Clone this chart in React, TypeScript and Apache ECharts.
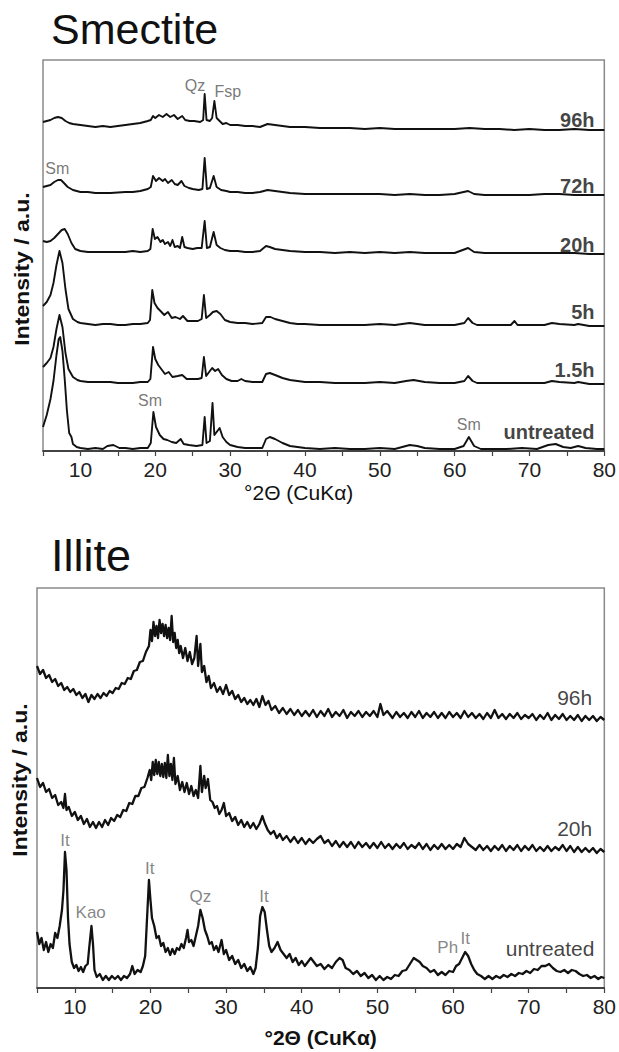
import React, { useEffect, useRef } from "react";
import * as echarts from "echarts";

const FONT = "'Liberation Sans', Arial, Helvetica, sans-serif";

const X_TICKS = [5, 10, 15, 20, 25, 30, 35, 40, 45, 50, 55, 60, 65, 70, 75, 80];
const X_LABELS = [10, 20, 30, 40, 50, 60, 70, 80];

// ---------- Smectite (intensity in a.u., curves offset) ----------
const smectite96h = [[5,329],[5.5,330],[6,331],[6.5,333],[7,334],[7.5,333],[8,330],[8.5,328],[9,327],[10,326],[11,325],[12,324],[13,325],[14,324],[15,325],[16,326],[17,327],[18,328],[19,330],[19.4,331],[19.7,335],[20,333],[20.5,336],[21,334],[21.5,337],[22,334],[22.5,336],[23,332],[23.6,335],[24,331],[24.6,330],[25.2,330],[26,329],[26.4,331],[26.6,357],[26.85,331],[27.3,330],[27.6,333],[27.9,350],[28.2,333],[28.6,330],[29,327],[29.5,328],[30,326],[31,326],[32,325],[33,325],[34,324],[35,327],[36,326],[37,325],[38,324],[40,324],[42,323],[44,323],[46,323],[48,322],[50,323],[52,322],[54,322],[56,322],[58,322],[60,322],[62,323],[64,322],[66,322],[68,321],[70,322],[72,321],[74,321],[76,322],[78,321],[80,321]];
const smectite72h = [[5,264],[5.5,265],[6,266],[6.5,269],[7,271],[7.4,271],[7.8,268],[8.3,264],[9,261],[10,259],[11,259],[12,258],[14,258],[16,259],[17,259],[18,260],[19,262],[19.4,264],[19.7,275],[20.1,270],[20.5,273],[21,270],[21.3,272],[21.7,268],[22.2,271],[22.6,267],[23,266],[23.5,270],[23.9,265],[24.5,263],[25,262],[25.8,261],[26.3,262],[26.6,293],[26.9,262],[27.3,263],[27.8,275],[28.2,264],[28.8,261],[29.5,260],[30,259],[31,259],[32,258],[33,258],[34,259],[35,261],[36,260],[37,259],[38,258],[40,257],[42,257],[44,257],[46,257],[48,257],[50,257],[52,256],[54,257],[56,256],[58,256],[60,257],[61.8,260],[62.6,257],[64,256],[66,256],[68,256],[70,256],[72,257],[74,257],[76,256],[78,256],[80,256]];
const smectite20h = [[5,210],[5.5,209],[6,210],[6.5,213],[7,217],[7.5,221],[7.9,222],[8.3,217],[8.8,208],[9.3,202],[10,200],[11,199],[12,199],[13,199],[14,199],[15,199],[16,199],[17,200],[18,199],[19,200],[19.35,202],[19.65,222],[19.95,212],[20.3,214],[20.7,209],[21,211],[21.3,207],[21.7,209],[22,205],[22.3,211],[22.6,204],[23,205],[23.3,203],[23.6,214],[23.9,204],[24.3,203],[25,202],[25.6,203],[26.2,203],[26.6,230],[26.9,203],[27.3,204],[27.8,219],[28.2,206],[28.7,203],[29.3,201],[30,200],[31,200],[32,199],[33,199],[34,200],[34.8,205],[35.3,204],[36,202],[37,201],[38,200],[40,199],[42,199],[44,198],[46,199],[48,198],[50,199],[52,198],[54,199],[56,198],[58,198],[60,198],[61.8,203],[62.6,199],[64,198],[66,198],[68,198],[70,198],[72,198],[74,198],[76,198],[78,197],[80,197]];
const smectite5h = [[5,145],[5.5,149],[6,156],[6.4,168],[6.8,186],[7.2,200],[7.6,188],[8,162],[8.4,142],[9,132],[9.6,129],[10,128],[11,127],[12,126],[13,127],[14,127],[15,126],[16,126],[17,127],[18,127],[19,128],[19.3,131],[19.6,161],[19.9,148],[20.3,143],[20.7,140],[21.2,136],[21.7,139],[22.2,133],[22.7,134],[23.3,132],[23.7,135],[24.3,130],[25,130],[25.7,130],[26.2,132],[26.5,156],[26.8,133],[27.3,136],[27.7,139],[28.2,140],[28.7,137],[29.3,131],[30,129],[31,128],[32,128],[33,127],[34.3,128],[34.8,134],[35.4,134],[36,132],[37,130],[38,128],[39,127],[40,127],[42,126],[44,126],[46,126],[48,126],[50,127],[52,126],[54,128],[55,127],[56,126],[58,126],[60,126],[61.3,128],[61.8,133],[62.4,128],[63,126],[65,126],[67.5,126],[68,130],[68.4,126],[70,126],[72,126],[73,128],[74,127],[76,126],[76.5,127],[78,125],[80,125]];
const smectite1_5h = [[5,84],[5.5,88],[6,93],[6.4,104],[6.8,122],[7.2,136],[7.6,124],[8,98],[8.4,82],[9,74],[9.6,71],[10,70],[11,69],[12,69],[13,69],[14,69],[15,68],[16,68],[17,68],[18,69],[19,69],[19.35,72],[19.7,104],[20,92],[20.4,86],[20.8,82],[21.3,77],[21.8,79],[22.3,74],[23,75],[23.6,76],[24.2,72],[25,72],[25.7,72],[26.2,73],[26.5,94],[26.8,75],[27.2,79],[27.6,83],[28,80],[28.4,82],[28.9,76],[29.5,72],[30.2,70],[31,70],[31.5,72],[32,70],[33,69],[34.3,69],[34.8,77],[35.3,78],[36,76],[37,73],[38,71],[39,70],[40,69],[42,69],[44,68],[46,68],[48,68],[50,69],[52,68],[53.5,70],[54.5,71],[56,69],[58,68],[60,68],[61.3,70],[61.8,75],[62.4,70],[63,68],[65,68],[68,68],[70,68],[72,68],[73,70],[74,69],[76,68],[76.5,69],[78,67],[80,67]];
const smectiteUntreated = [[5,24],[5.5,36],[6,52],[6.4,70],[6.8,96],[7.1,112],[7.3,114],[7.6,100],[7.9,72],[8.2,40],[8.5,18],[8.8,14],[9,7],[9.5,4],[10,3],[11,2],[12,3],[13,2],[13.6,5],[14.4,6],[15.2,3],[16,3],[17,2],[18,3],[19,3],[19.4,8],[19.75,39],[20.1,24],[20.6,16],[21.1,12],[21.6,11],[22.2,9],[22.8,8],[23.4,12],[23.8,7],[24.5,6],[25.5,5],[26.3,6],[26.6,34],[26.85,8],[27.3,10],[27.65,48],[27.9,16],[28.3,20],[28.6,23],[29,14],[29.5,9],[30,6],[31,4],[32,3],[33,3],[34.3,3],[34.8,12],[35.3,14],[36,12],[37,8],[38,5],[39,4],[40,3],[42,2],[44,3],[46,2],[48,2],[50,3],[52,2],[54,6],[55,5],[56,3],[58,2],[60,2],[61.2,5],[61.9,14],[62.6,5],[63.5,2],[65,2],[67,2],[69,3],[71,2],[72.5,6],[73.5,7],[74.5,4],[75.5,3],[76.5,5],[77.5,3],[79,2],[80,2]];

const smectiteCurveLabels = [["96h", 78.7, 331], ["72h", 78.7, 265], ["20h", 78.7, 206], ["5h", 78.7, 139], ["1.5h", 78.7, 81], ["untreated", 78.7, 19]];
const smectitePeakLabels = [["Qz", 25.3, 366], ["Fsp", 29.7, 360], ["Sm", 6.9, 283], ["Sm", 19.3, 51], ["Sm", 61.9, 27]];

// ---------- Illite ----------
const illite96h = [[5,322],[5.4,314],[5.8,318],[6.2,310],[6.6,313],[7,306],[7.4,309],[7.8,302],[8.2,305],[8.6,298],[9,301],[9.4,296],[9.8,299],[10.2,293],[10.6,296],[11,290],[11.4,294],[11.8,286],[12.2,293],[12.6,289],[13,294],[13.4,290],[13.8,295],[14.2,292],[14.6,297],[15,295],[15.4,300],[15.8,299],[16.2,305],[16.6,304],[17,310],[17.4,309],[17.8,317],[18.2,318],[18.6,326],[19,327],[19.4,336],[19.8,342],[20,358],[20.2,347],[20.4,366],[20.6,352],[20.8,362],[21,350],[21.2,368],[21.4,355],[21.6,364],[21.8,352],[22,363],[22.2,350],[22.4,360],[22.6,348],[22.8,372],[23,346],[23.2,355],[23.4,340],[23.6,348],[23.8,335],[24,342],[24.3,330],[24.6,340],[24.9,327],[25.2,336],[25.5,324],[25.8,330],[26.1,352],[26.3,322],[26.6,344],[26.8,316],[27.1,322],[27.4,306],[27.7,312],[28,300],[28.4,305],[28.8,296],[29.2,301],[29.6,294],[30,303],[30.4,293],[30.8,297],[31.2,289],[31.6,293],[32,286],[32.4,290],[32.8,284],[33.2,288],[33.6,283],[34,289],[34.4,281],[34.8,292],[35.2,283],[35.6,287],[36,278],[36.5,282],[37,275],[37.5,280],[38,274],[38.5,279],[39,273],[39.5,278],[40,272],[40.5,277],[41,272],[41.5,278],[42,271],[42.5,277],[43,272],[43.5,279],[44,271],[44.5,276],[45,272],[45.5,278],[46,270],[46.5,276],[47,272],[47.5,277],[48,271],[48.5,276],[49,272],[49.5,277],[50,271],[50.4,284],[50.8,273],[51.3,277],[52,270],[52.5,276],[53,271],[53.5,275],[54,270],[54.5,276],[55,271],[55.5,277],[56,270],[56.5,275],[57,271],[57.5,276],[58,270],[58.5,275],[59,270],[59.5,276],[60,271],[60.5,275],[61,270],[61.5,277],[62,271],[62.5,275],[63,270],[63.5,274],[64,269],[64.5,275],[65,270],[65.5,278],[66,270],[66.5,274],[67,269],[67.5,274],[68,270],[68.5,275],[69,269],[69.5,273],[70,270],[70.5,274],[71,268],[71.5,273],[72,269],[72.5,275],[73,268],[73.5,273],[74,269],[74.5,274],[75,268],[75.5,272],[76,268],[76.5,273],[77,267],[77.5,272],[78,268],[78.5,272],[79,267],[79.5,271],[80,268]];
const illite20h = [[5,210],[5.4,201],[5.8,205],[6.2,196],[6.6,199],[7,190],[7.4,193],[7.8,183],[8.2,186],[8.5,180],[8.7,194],[8.9,178],[9.2,181],[9.6,172],[10,176],[10.4,168],[10.8,172],[11.2,164],[11.6,169],[12,161],[12.4,166],[12.8,160],[13.2,166],[13.6,161],[14,168],[14.4,163],[14.8,170],[15.2,167],[15.6,173],[16,171],[16.4,178],[16.8,177],[17.2,185],[17.6,184],[18,192],[18.4,192],[18.8,200],[19.2,201],[19.6,210],[19.9,218],[20.1,208],[20.3,226],[20.5,213],[20.7,228],[20.9,214],[21.1,226],[21.3,212],[21.5,224],[21.7,211],[21.9,225],[22.1,210],[22.3,233],[22.5,212],[22.7,224],[22.9,208],[23.1,230],[23.3,204],[23.6,212],[23.9,198],[24.2,206],[24.5,196],[24.8,205],[25.1,194],[25.4,202],[25.7,192],[26,198],[26.3,190],[26.6,222],[26.8,196],[27.1,212],[27.3,200],[27.6,209],[27.9,188],[28.2,186],[28.5,180],[28.8,182],[29.1,174],[29.4,178],[29.7,185],[30,172],[30.4,175],[30.8,167],[31.2,171],[31.6,163],[32,168],[32.4,161],[32.8,166],[33.2,160],[33.6,165],[34,159],[34.4,164],[34.8,172],[35.1,165],[35.5,158],[35.9,154],[36.3,157],[36.7,150],[37.1,154],[37.5,148],[38,152],[38.5,146],[39,151],[39.5,145],[40,150],[40.5,144],[41,149],[41.5,145],[42,149],[42.5,152],[43,145],[43.5,148],[44,142],[44.5,147],[45,141],[45.5,146],[46,141],[46.5,146],[47,140],[47.5,146],[48,141],[48.5,145],[49,140],[49.5,145],[50,140],[50.5,146],[51,140],[51.5,144],[52,139],[52.5,144],[53,140],[53.5,145],[54,139],[54.5,143],[55,140],[55.5,145],[56,139],[56.5,144],[57,138],[57.5,143],[58,139],[58.5,144],[59,139],[59.5,143],[60,139],[60.5,144],[61,141],[61.5,150],[62,144],[62.5,141],[63,138],[63.5,143],[64,138],[64.5,142],[65,137],[65.5,142],[66,138],[66.5,143],[67,137],[67.5,142],[68,138],[68.5,143],[69,137],[69.5,142],[70,138],[70.5,143],[71,137],[71.5,141],[72,137],[72.5,142],[73,137],[73.5,141],[74,138],[74.5,143],[75,137],[75.5,142],[76,136],[76.5,141],[77,136],[77.5,140],[78,136],[78.5,140],[79,135],[79.5,139],[80,136]];
const illiteUntreated = [[5,56],[5.3,44],[5.6,50],[5.9,38],[6.2,46],[6.5,36],[6.8,44],[7.1,40],[7.4,55],[7.7,50],[8,62],[8.3,78],[8.5,98],[8.7,136],[8.9,118],[9.1,70],[9.3,44],[9.6,26],[9.9,20],[10.2,23],[10.5,17],[10.8,21],[11.1,16],[11.4,22],[11.7,24],[11.9,40],[12.2,62],[12.4,44],[12.6,18],[12.9,11],[13.3,14],[13.7,8],[14.1,12],[14.5,8],[14.9,12],[15.3,9],[15.7,12],[16.1,8],[16.5,12],[16.9,10],[17.3,14],[17.6,22],[17.9,14],[18.3,18],[18.7,16],[19,22],[19.3,32],[19.55,70],[19.8,108],[20,88],[20.2,70],[20.5,62],[20.8,50],[21.1,52],[21.4,42],[21.7,45],[22,36],[22.3,40],[22.6,33],[22.9,39],[23.2,34],[23.5,40],[23.8,38],[24.1,44],[24.4,40],[24.7,50],[24.9,58],[25.1,46],[25.4,48],[25.7,42],[26,52],[26.3,62],[26.6,78],[26.9,70],[27.2,58],[27.5,52],[27.8,44],[28.1,46],[28.4,38],[28.7,42],[29,36],[29.4,48],[29.7,34],[30,38],[30.4,28],[30.8,32],[31.2,24],[31.6,28],[32,20],[32.4,24],[32.8,17],[33.2,21],[33.6,14],[33.9,20],[34.2,40],[34.5,72],[34.8,81],[35.1,76],[35.4,58],[35.7,42],[36,36],[36.4,40],[36.8,46],[37.2,38],[37.6,34],[38,30],[38.4,34],[38.8,26],[39.2,30],[39.6,23],[40,27],[40.4,22],[40.8,26],[41.2,30],[41.6,26],[42,22],[42.5,24],[43,19],[43.5,23],[44,20],[44.5,26],[45,30],[45.4,28],[45.8,20],[46.3,18],[46.8,14],[47.3,17],[47.8,12],[48.3,15],[48.8,10],[49.3,13],[49.8,8],[50.3,12],[50.8,8],[51.3,11],[51.8,9],[52.3,13],[52.8,12],[53.3,17],[53.8,18],[54.3,24],[54.8,30],[55.2,28],[55.6,26],[56,22],[56.5,20],[57,16],[57.5,18],[58,13],[58.5,16],[59,13],[59.5,17],[60,16],[60.4,22],[60.8,24],[61.2,30],[61.6,36],[62,32],[62.4,24],[62.8,18],[63.2,14],[63.7,12],[64.2,9],[64.7,12],[65.2,9],[65.7,12],[66.2,10],[66.7,13],[67.2,11],[67.7,14],[68.2,12],[68.7,15],[69.2,14],[69.7,17],[70.2,15],[70.7,19],[71.2,18],[71.7,22],[72.2,22],[72.7,24],[73.2,20],[73.7,17],[74.2,16],[74.7,18],[75.2,15],[75.7,18],[76.2,17],[76.7,14],[77.2,12],[77.7,13],[78.2,10],[78.7,12],[79.2,9],[79.6,11],[80,10]];

const illiteCurveLabels = [["96h", 78.4, 291], ["20h", 78.4, 160], ["untreated", 78.7, 40]];
const illitePeakLabels = [["It", 8.7, 148], ["Kao", 12.1, 76], ["It", 19.9, 120], ["Qz", 26.6, 92], ["It", 35.0, 92], ["Ph", 59.3, 41], ["It", 61.6, 50]];

function lineSeries(data: number[][], idx: number, width: number) {
  return {
    type: "line",
    xAxisIndex: idx,
    yAxisIndex: idx,
    data,
    showSymbol: false,
    symbol: "none",
    silent: true,
    lineStyle: { color: "#111", width, join: "round" },
    z: 3,
  };
}

function labelSeries(items: any[], idx: number, align: string, color: string, size: number, weight: string) {
  return {
    type: "scatter",
    xAxisIndex: idx,
    yAxisIndex: idx,
    symbolSize: 0,
    silent: true,
    z: 5,
    data: items.map((d) => ({ name: d[0], value: [d[1], d[2]] })),
    label: {
      show: true,
      position: "inside",
      formatter: "{b}",
      align,
      verticalAlign: "middle",
      color,
      fontSize: size,
      fontWeight: weight,
      fontFamily: FONT,
    },
  };
}

function xAxisFor(idx: number, bold: boolean, padRight: number, gap: number) {
  return {
    type: "value",
    gridIndex: idx,
    min: 5,
    max: 80,
    axisLine: { show: true, lineStyle: { color: "#222", width: 1.5 } },
    axisTick: { show: true, customValues: X_TICKS, length: 5, lineStyle: { color: "#444", width: 1.2 } },
    axisLabel: { customValues: X_LABELS, fontSize: 21, color: "#222", fontFamily: FONT, margin: 8 },
    splitLine: { show: false },
    name: "°2Θ (CuKα)",
    nameLocation: "middle",
    nameGap: gap,
    nameTextStyle: {
      fontSize: 21,
      fontWeight: bold ? "bold" : "normal",
      color: "#111",
      fontFamily: FONT,
      padding: [0, padRight, 0, 0],
    },
  };
}

export default function App() {
  const ref = useRef<HTMLDivElement>(null);
  useEffect(() => {
    if (!ref.current) return;
    const chart = echarts.init(ref.current, undefined, { renderer: "svg" });
    chart.setOption({
      animation: false,
      backgroundColor: "#ffffff",
      grid: [
        { left: 43, top: 60, width: 562, height: 391, show: true, borderColor: "#8a8a8a", borderWidth: 1.5, backgroundColor: "transparent" },
        { left: 37, top: 588, width: 573, height: 400, show: true, borderColor: "#8a8a8a", borderWidth: 1.5, backgroundColor: "transparent" },
      ],
      xAxis: [xAxisFor(0, false, 50, 31), xAxisFor(1, true, 0, 39)],
      yAxis: [
        { type: "value", gridIndex: 0, min: 0, max: 391, show: false },
        { type: "value", gridIndex: 1, min: 0, max: 400, show: false },
      ],
      graphic: [
        { type: "text", x: 51, y: 29, style: { text: "Smectite", fontSize: 43, fontFamily: FONT, fill: "#111", align: "left", verticalAlign: "middle" } },
        { type: "text", x: 51, y: 555, style: { text: "Illite", fontSize: 45, fontFamily: FONT, fill: "#111", align: "left", verticalAlign: "middle" } },
        { type: "text", x: 22, y: 269, rotation: Math.PI / 2, scaleX: 1.15, style: { text: "Intensity / a.u.", fontSize: 20, fontWeight: "bold", fontFamily: FONT, fill: "#111", align: "center", verticalAlign: "middle" } },
        { type: "text", x: 20, y: 780, rotation: Math.PI / 2, scaleX: 1.15, style: { text: "Intensity / a.u.", fontSize: 20, fontWeight: "bold", fontFamily: FONT, fill: "#111", align: "center", verticalAlign: "middle" } },
      ],
      series: [
        lineSeries(smectite96h, 0, 1.9),
        lineSeries(smectite72h, 0, 1.9),
        lineSeries(smectite20h, 0, 1.9),
        lineSeries(smectite5h, 0, 1.9),
        lineSeries(smectite1_5h, 0, 1.9),
        lineSeries(smectiteUntreated, 0, 1.9),
        labelSeries(smectiteCurveLabels, 0, "right", "#111", 20, "bold"),
        labelSeries(smectitePeakLabels, 0, "center", "#555", 16, "normal"),
        lineSeries(illite96h, 1, 2.3),
        lineSeries(illite20h, 1, 2.3),
        lineSeries(illiteUntreated, 1, 2.3),
        labelSeries(illiteCurveLabels, 1, "right", "#111", 21, "normal"),
        labelSeries(illitePeakLabels, 1, "center", "#666", 17, "normal"),
      ],
    });
    return () => chart.dispose();
  }, []);
  return <div ref={ref} style={{ position: "fixed", left: 0, top: 0, width: 619, height: 1052 }} />;
}
